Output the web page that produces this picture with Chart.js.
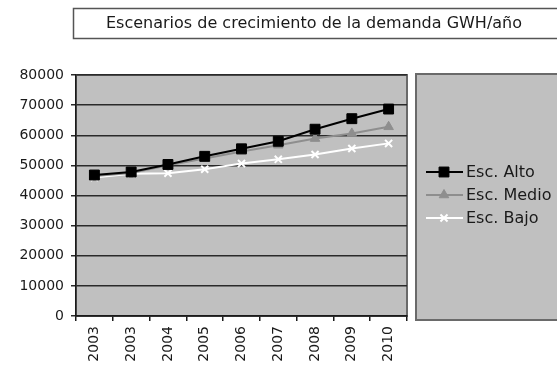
<!DOCTYPE html>
<html>
<head>
<meta charset="utf-8">
<script src="https://cdn.jsdelivr.net/npm/chart.js@4/dist/chart.umd.min.js"></script>
<style>
  html, body { margin: 0; padding: 0; background: #fff; overflow: hidden; }
  #wrap { width: 557px; height: 371px; }
</style>
</head>
<body>
<div id="wrap"><canvas id="c" width="557" height="371"></canvas></div>
<script>
// Demand growth scenarios, GWh per year
const years = ['2003', '2003', '2004', '2005', '2006', '2007', '2008', '2009', '2010'];
const escAlto  = [46800, 47800, 50300, 53000, 55500, 58000, 62000, 65500, 68700];
const escMedio = [46500, 47500, 50000, 52300, 54600, 56700, 58900, 60600, 62800];
const escBajo  = [46000, 47200, 47400, 48700, 50600, 52000, 53600, 55600, 57300];
const yTicks   = [0, 10000, 20000, 30000, 40000, 50000, 60000, 70000, 80000];
const chartTitle = 'Escenarios de crecimiento de la demanda GWH/año';

const FONT = '"DejaVu Sans", Arial, sans-serif';
const INK = '#1a1a1a';
const PANEL = '#c0c0c0';

// Grey plot panel with a darker frame
const plotPanel = {
  id: 'plotPanel',
  beforeDraw(chart) {
    const { ctx, chartArea: a } = chart;
    ctx.save();
    ctx.fillStyle = PANEL;
    ctx.fillRect(a.left, a.top, a.right - a.left, a.bottom - a.top);
    ctx.strokeStyle = '#6a6a6a';
    ctx.lineWidth = 2;
    ctx.strokeRect(a.left, a.top, a.right - a.left, a.bottom - a.top);
    ctx.restore();
  }
};

// Boxed title across the top
const boxedTitle = {
  id: 'boxedTitle',
  afterDraw(chart) {
    const { ctx } = chart;
    ctx.save();
    ctx.fillStyle = '#fff';
    ctx.fillRect(73, 8, 500, 30);
    ctx.strokeStyle = '#555';
    ctx.lineWidth = 1.5;
    ctx.strokeRect(73.5, 8.5, 500, 30);
    ctx.fillStyle = INK;
    ctx.font = '16px ' + FONT;
    ctx.textAlign = 'center';
    ctx.textBaseline = 'middle';
    ctx.fillText(chartTitle, 314, 24);
    ctx.restore();
  }
};

// Legend panel on the right, built from the datasets
const sideLegend = {
  id: 'sideLegend',
  afterDraw(chart) {
    const { ctx } = chart;
    ctx.save();
    ctx.fillStyle = PANEL;
    ctx.fillRect(415, 73, 160, 247);
    ctx.strokeStyle = '#6a6a6a';
    ctx.lineWidth = 2;
    ctx.strokeRect(416, 74, 160, 246);
    const rows = [172, 195, 218];
    chart.data.datasets.forEach((ds, i) => {
      const y = rows[i];
      ctx.strokeStyle = ds.borderColor;
      ctx.lineWidth = ds.borderWidth;
      ctx.beginPath();
      ctx.moveTo(426, y);
      ctx.lineTo(463, y);
      ctx.stroke();
      ctx.fillStyle = ds.pointBackgroundColor;
      ctx.strokeStyle = ds.pointBorderColor;
      ctx.lineWidth = ds.pointBorderWidth;
      Chart.helpers.drawPoint(ctx, {
        pointStyle: ds.pointStyle, radius: ds.pointRadius,
        borderWidth: ds.pointBorderWidth, rotation: 0
      }, 444, y);
      ctx.fillStyle = INK;
      ctx.font = '16px ' + FONT;
      ctx.textAlign = 'left';
      ctx.textBaseline = 'middle';
      ctx.fillText(ds.label, 466, y + 1);
    });
    ctx.restore();
  }
};

new Chart(document.getElementById('c'), {
  type: 'line',
  data: {
    labels: years,
    datasets: [
      {
        label: 'Esc. Alto', data: escAlto,
        borderColor: '#000', borderWidth: 2,
        pointStyle: 'rect', pointRadius: 7, pointBorderWidth: 1,
        pointBackgroundColor: '#000', pointBorderColor: '#000'
      },
      {
        label: 'Esc. Medio', data: escMedio,
        borderColor: '#8e8e8e', borderWidth: 2,
        pointStyle: 'triangle', pointRadius: 5.5, pointBorderWidth: 1,
        pointBackgroundColor: '#8e8e8e', pointBorderColor: '#8e8e8e'
      },
      {
        label: 'Esc. Bajo', data: escBajo,
        borderColor: '#fff', borderWidth: 2,
        pointStyle: 'crossRot', pointRadius: 5, pointBorderWidth: 2,
        pointBackgroundColor: '#fff', pointBorderColor: '#fff'
      }
    ]
  },
  options: {
    responsive: false,
    animation: false,
    devicePixelRatio: 1,
    layout: { padding: { left: 0, right: 150, top: 75, bottom: 0 } },
    plugins: { legend: { display: false }, title: { display: false }, tooltip: { enabled: false } },
    elements: { line: { tension: 0 } },
    scales: {
      x: {
        offset: true,
        grid: { offset: true, drawOnChartArea: false, drawTicks: true, tickLength: 5, color: INK, lineWidth: 1.5 },
        border: { color: INK, width: 1.5 },
        ticks: {
          autoSkip: false, minRotation: 90, maxRotation: 90, padding: 5,
          color: INK, font: { family: FONT, size: 14 }
        },
        afterFit(s) { s.height = 55; }
      },
      y: {
        min: 0, max: 80000,
        afterBuildTicks(s) { s.ticks = yTicks.map(v => ({ value: v })); },
        grid: { color: '#2a2a2a', lineWidth: 1.5, tickLength: 5, drawTicks: true },
        border: { color: INK, width: 1.5 },
        ticks: {
          padding: 7, color: INK, font: { family: FONT, size: 14 },
          callback: v => String(v)
        },
        afterFit(s) { s.width = 76; }
      }
    }
  },
  plugins: [plotPanel, boxedTitle, sideLegend]
});
</script>
</body>
</html>
